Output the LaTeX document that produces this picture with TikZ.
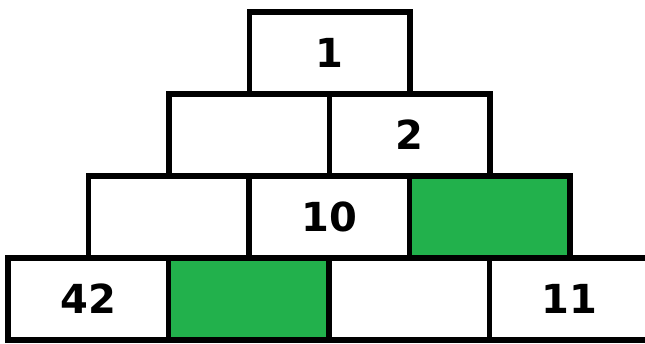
\documentclass[tikz,border=0pt]{standalone}
\usepackage{fontspec}
\setmainfont{DejaVu Sans}
\definecolor{paintgreen}{RGB}{34,177,76}
\begin{document}
\begin{tikzpicture}[x=1pt,y=1pt,
  cell/.style={draw=black, line width=5.5pt, fill=white, inner sep=0pt,
    minimum width=160.5pt, minimum height=82pt,
    font=\fontsize{40}{44}\selectfont\bfseries},
  greencell/.style={cell, fill=paintgreen}]
\useasboundingbox (0,0) rectangle (645,343);
% bottom row
\node[cell] (d1) at (88.25,44) {42};
\node[greencell] (d2) at (248.75,44) {};
\node[cell] (d3) at (409.25,44) {};
\node[cell] (d4) at (569.75,44) {11};
% third row
\node[cell] (c1) at (168.5,126) {};
\node[cell] (c2) at (329,126) {10};
\node[greencell] (c3) at (489.5,126) {};
% second row
\node[cell] (b1) at (249,208) {};
\node[cell] (b2) at (409.5,208) {2};
% top
\node[cell] (a1) at (329.5,290) {1};
\end{tikzpicture}
\end{document}
